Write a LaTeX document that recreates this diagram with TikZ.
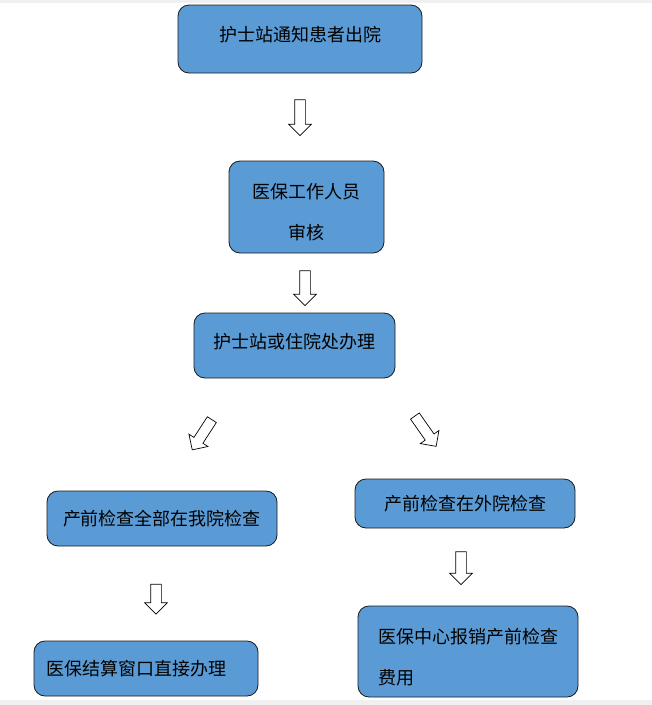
\documentclass[tikz,border=0pt]{standalone}
\usepackage{fontspec}
\newfontfamily\cjk{Noto Sans CJK SC}
\usetikzlibrary{shapes.arrows}
\definecolor{boxblue}{RGB}{91,155,213}
\definecolor{edge}{RGB}{25,25,25}

\begin{document}
\begin{tikzpicture}[x=1pt,y=-1pt,
  stepbox/.style={draw=edge,fill=boxblue,rounded corners=11pt,line width=0.8pt,
    inner sep=0pt,font=\cjk\fontsize{18}{41}\selectfont},
  hollow/.style={single arrow,draw=black,fill=white,line width=0.7pt,inner sep=5pt,
    single arrow head extend=6pt}
]
\useasboundingbox (0,0) rectangle (652,705);
\fill[black!6] (0,0) rectangle (652,3);
\fill[black!6] (0,700) rectangle (652,705);

% boxes
\node[stepbox,minimum width=244,minimum height=68] (notify) at (300,39) {\rule[-10pt]{0pt}{10pt}护士站通知患者出院};
\node[stepbox,minimum width=155,minimum height=92,align=center] (audit) at (306.5,207) {\rule{0pt}{26pt}医保工作人员\\审核};
\node[stepbox,minimum width=201,minimum height=65] (handle) at (294.5,345.5) {\rule[-10pt]{0pt}{10pt}护士站或住院处办理};
\node[stepbox,minimum width=230,minimum height=55] (inhosp) at (162,518.5) {产前检查全部在我院检查};
\node[stepbox,minimum width=220,minimum height=49] (outhosp) at (465,503.5) {产前检查在外院检查};
\node[stepbox,minimum width=224,minimum height=55,text width=200,align=left] (settle) at (146,668.5) {医保结算窗口直接办理};
\node[stepbox,minimum width=220,minimum height=91,align=left] (refund) at (468,651.5) {\rule{0pt}{26pt}医保中心报销产前检查\\费用};

% hollow arrows
\node[hollow,minimum height=36,rotate=-90] (a1) at (300,115) {};
\node[hollow,minimum height=35,rotate=-90] (a2) at (305,285.5) {};
\node[hollow,minimum height=36,rotate=-123] (a3) at (203.5,432.5) {};
\node[hollow,minimum height=37,rotate=-55] (a4) at (424,429) {};
\node[hollow,minimum height=30,rotate=-90] (a5) at (156,596.5) {};
\node[hollow,minimum height=33,rotate=-90] (a6) at (461,565.5) {};
\end{tikzpicture}
\end{document}
